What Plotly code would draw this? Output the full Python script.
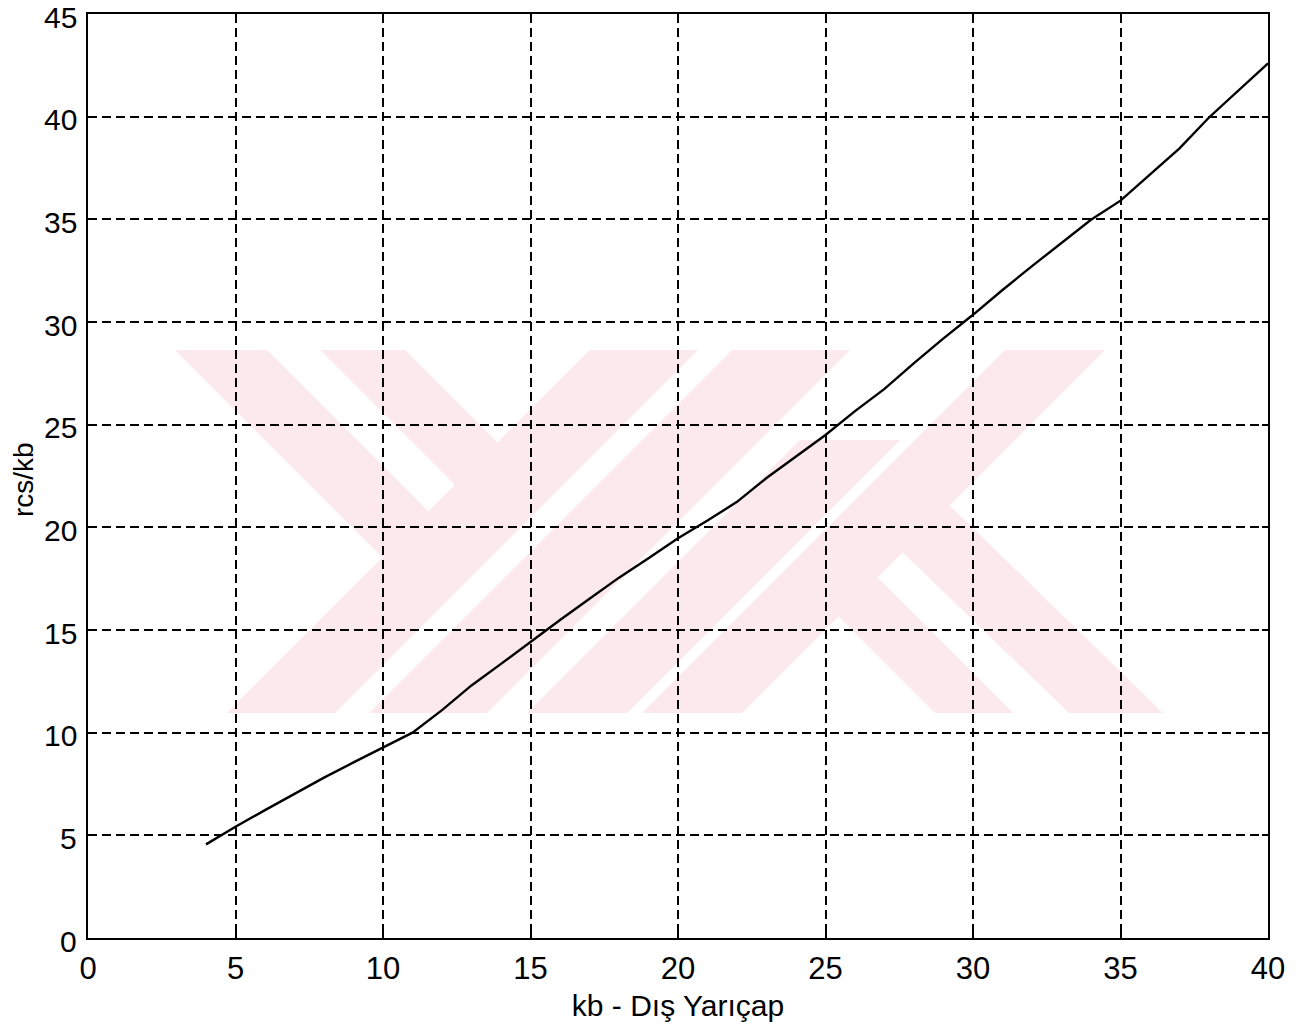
import plotly.graph_objects as go

# outer radius kb and normalised cross-section rcs/kb
kb = [4, 5, 6, 7, 8, 9, 10, 11, 12, 13, 14, 15, 16, 17, 18, 19, 20,
      21, 22, 23, 24, 25, 26, 27, 28, 29, 30, 31, 32, 33, 34, 35, 36,
      37, 38, 39, 40]
rcs_kb = [4.56, 5.42, 6.23, 7.04, 7.81, 8.55, 9.29, 10.0, 11.1, 12.3,
          13.35, 14.43, 15.49, 16.52, 17.55, 18.5, 19.47, 20.33, 21.24,
          22.4, 23.45, 24.5, 25.66, 26.74, 28.0, 29.2, 30.35, 31.56,
          32.72, 33.85, 34.98, 35.91, 37.2, 38.46, 39.96, 41.3, 42.6]

x_ticks = [0, 5, 10, 15, 20, 25, 30, 35, 40]
y_ticks = [0, 5, 10, 15, 20, 25, 30, 35, 40, 45]

FONT = "Liberation Sans, Arial, sans-serif"

# Faint background logo, built from 45-degree stripes.
# Outlines are given in page pixels of the 1300x1032 canvas and mapped
# onto the plot area (paper coordinates) below.
PLOT_L, PLOT_R, PLOT_T, PLOT_B = 88, 1268, 14, 938
logo_polys = [
    [(175, 350), (267, 350), (428.5, 511.5), (382.5, 557.5)],      # left stroke
    [(320, 350), (405, 350), (507.5, 452.5), (465, 495)],          # second stroke
    [(590, 350), (698, 350), (335, 713), (227, 713)],              # long diagonal
    [(732, 350), (850, 350), (487, 713), (369, 713)],              # long diagonal
    [(800, 440), (900, 440), (627, 713), (527, 713)],              # short diagonal
    [(1005, 350), (1105, 350), (742, 713), (642, 713)],            # long diagonal
    [(831, 609), (870, 570), (1013, 713), (935, 713)],             # right leg
    [(895, 545), (942, 498), (1163, 713), (1069, 713)],            # right leg
]


def to_paper(pt):
    X, Y = pt
    return ((X - PLOT_L) / (PLOT_R - PLOT_L), (PLOT_B - Y) / (PLOT_B - PLOT_T))


shapes = []
for poly in logo_polys:
    pts = [to_paper(p) for p in poly]
    path = "M " + " L ".join(f"{x:.5f},{y:.5f}" for x, y in pts) + " Z"
    shapes.append(dict(
        type="path", path=path, xref="paper", yref="paper",
        fillcolor="#fce9ed", line=dict(width=0), layer="below",
    ))

fig = go.Figure()
fig.add_trace(go.Scatter(
    x=kb, y=rcs_kb, mode="lines",
    line=dict(color="black", width=2.4),
    showlegend=False,
))

axis_common = dict(
    showline=True, linecolor="black", linewidth=2, mirror="ticks",
    ticks="inside", ticklen=6, tickcolor="black", tickwidth=1.5,
    showgrid=True, gridcolor="black", gridwidth=1.8, griddash="9px,5px",
    zeroline=False, automargin=False,
)

fig.update_xaxes(
    range=[0, 40], tickvals=x_ticks, ticktext=[str(v) for v in x_ticks],
    ticklabelstandoff=2,
    tickfont=dict(family=FONT, size=31, color="black"),
    title=dict(text="kb - Dış Yarıçap", font=dict(family=FONT, size=30, color="black"), standoff=10),
    **axis_common,
)
# y tick labels sit a few pixels below their ticks, so they are set as annotations
fig.update_yaxes(
    range=[0, 45], tickvals=y_ticks, showticklabels=False,
    **axis_common,
)

annotations = [
    dict(x=0, xref="paper", y=v, yref="y", text=str(v), showarrow=False,
         xanchor="right", yanchor="middle", xshift=-9, yshift=-3,
         font=dict(family=FONT, size=30, color="black"))
    for v in y_ticks
]
annotations.append(dict(
    x=0, xref="paper", y=0.5, yref="paper", text="rcs/kb", showarrow=False,
    textangle=-90, xanchor="center", yanchor="middle", xshift=-65, yshift=-4,
    font=dict(family=FONT, size=28, color="black"),
))

fig.update_layout(
    width=1300, height=1032,
    margin=dict(l=88, r=32, t=14, b=94),
    paper_bgcolor="white", plot_bgcolor="white",
    font=dict(family=FONT, color="black"),
    shapes=shapes,
    annotations=annotations,
)

fig.write_html("out.html")
